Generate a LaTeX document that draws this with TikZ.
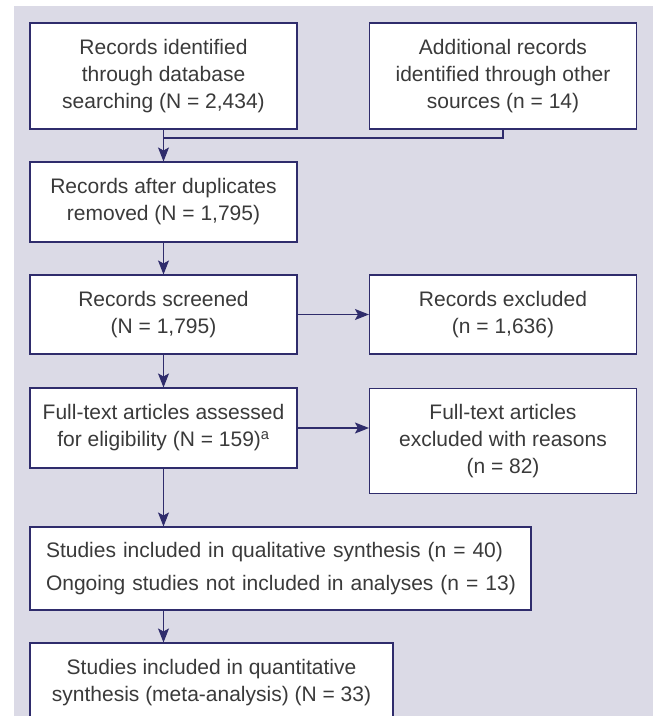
\documentclass[tikz,border=0pt]{standalone}
\usepackage{fontspec}
\setmainfont{Liberation Sans}
\usepackage{xcolor}
\usepackage{tikz}
\usetikzlibrary{arrows.meta}
\definecolor{panelbg}{HTML}{DBDAE6}
\definecolor{boxline}{HTML}{2F2C6C}
\definecolor{boxtext}{HTML}{3A3A3A}
\tikzset{flowbox/.style={draw=boxline,fill=white,line width=1.1pt,inner sep=0pt,align=center,
           text=boxtext,font=\fontsize{21pt}{27pt}\selectfont},
         flowline/.style={draw=boxline,line width=1.3pt},
         flowarrow/.style={flowline,-{Stealth[length=14pt,width=11pt,inset=3pt]}}}

\begin{document}
\begin{tikzpicture}[x=1pt,y=-1pt]
\clip (0,0) rectangle (653,716);
\fill[panelbg] (14,6) rectangle (653,716);
\node[flowbox,minimum width=267pt,minimum height=106pt] (ident) at (163.5,76) {Records identified\\through database\\searching (N = 2,434)};
\node[flowbox,minimum width=267pt,minimum height=106pt] (other) at (503,76) {Additional records\\identified through other\\sources (n = 14)};
\node[flowbox,minimum width=267pt,minimum height=80pt] (dedup) at (163.5,202) {Records after duplicates\\removed (N = 1,795)};
\node[flowbox,minimum width=267pt,minimum height=79pt] (screen) at (163.5,314.5) {Records screened\\(N = 1,795)};
\node[flowbox,minimum width=267pt,minimum height=79pt] (excl) at (503,314.5) {Records excluded\\(n = 1,636)};
\node[flowbox,minimum width=267pt,minimum height=80pt] (full) at (163.5,428) {Full-text articles assessed\\for eligibility (N = 159)\textsuperscript{a}};
\node[flowbox,minimum width=267pt,minimum height=105pt] (reason) at (503,440.7) {Full-text articles\\excluded with reasons\\(n = 82)};
\node[flowbox,align=left,inner xsep=16pt,text width=469pt,minimum height=83pt,font=\fontsize{21pt}{33pt}\selectfont] (qual) at (280.5,568.5) {\mbox{Studies included in qualitative synthesis (n = 40)}\\\mbox{Ongoing studies not included in analyses (n = 13)}};
\node[flowbox,minimum width=363pt,minimum height=80pt] (quant) at (211.5,683) {Studies included in quantitative\\synthesis (meta-analysis) (N = 33)};
\coordinate (merge) at (163.5,138);
\draw[flowline] (other.south) |- (merge);
\draw[flowarrow] (ident.south) -- (dedup.north);
\draw[flowarrow] (dedup.south) -- (screen.north);
\draw[flowarrow] (screen.east) -- (excl.west);
\draw[flowarrow] (screen.south) -- (full.north);
\draw[flowarrow] (full.east) -- (full.east -| reason.west);
\draw[flowarrow] (full.south) -- (full.south |- qual.north);
\draw[flowarrow] (full.south |- qual.south) -- (full.south |- quant.north);
\end{tikzpicture}
\end{document}
